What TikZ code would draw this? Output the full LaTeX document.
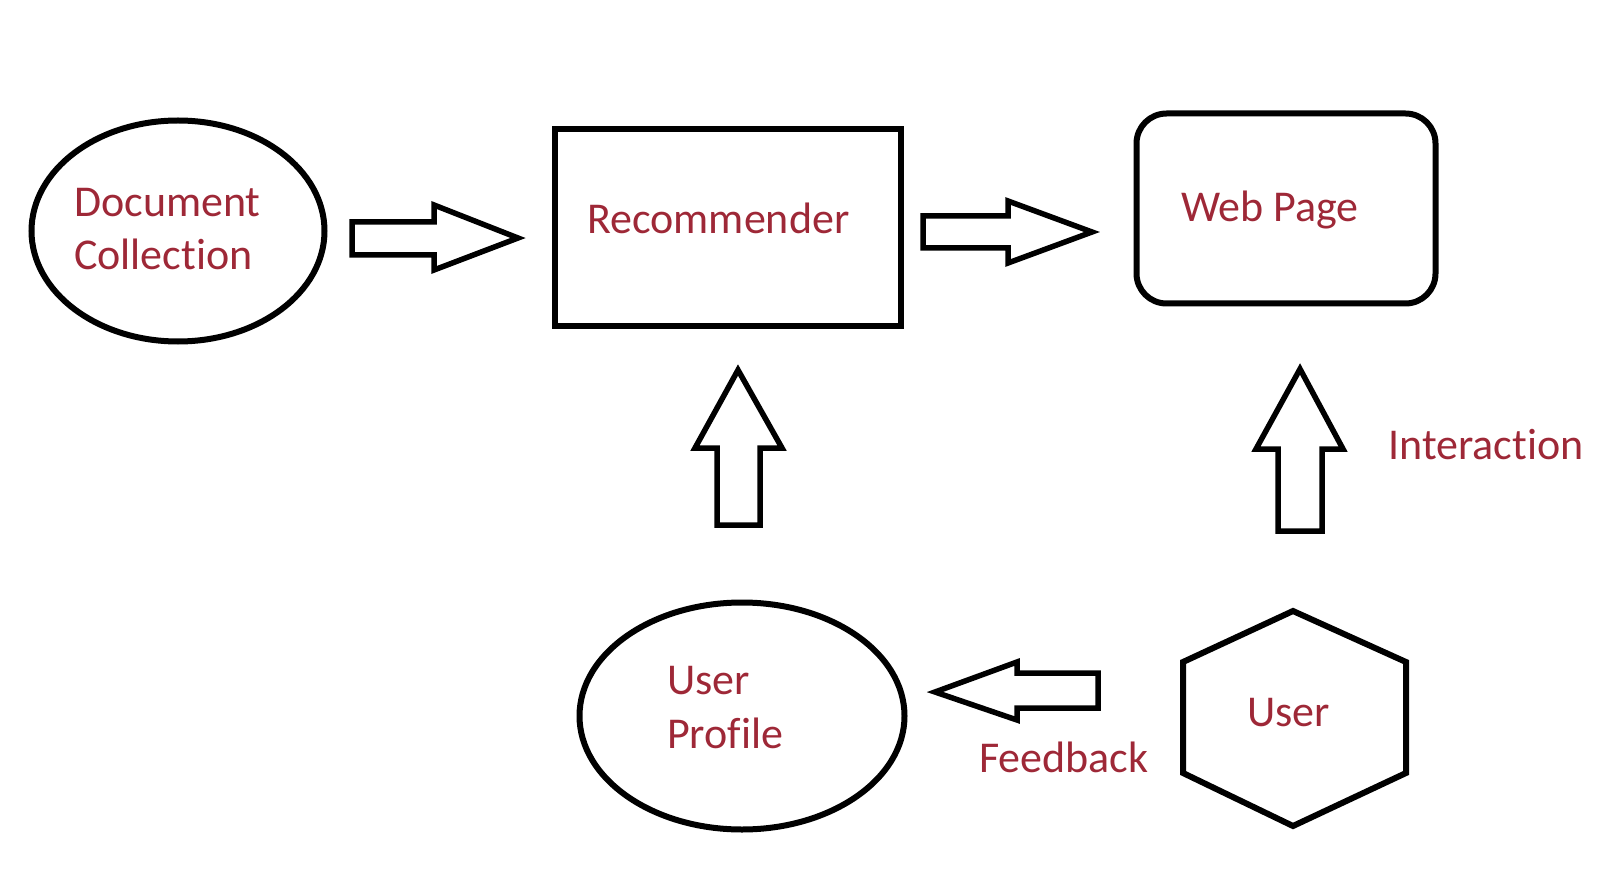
\documentclass[tikz,border=0pt]{standalone}
\usepackage{fontspec}
\setmainfont[Ligatures={NoCommon,NoContextual,NoRequired}]{Carlito}
\usetikzlibrary{shapes.geometric}
\definecolor{lbl}{RGB}{158,40,55}
\newcommand{\nolig}{\kern0pt }
\begin{document}
\begin{tikzpicture}[x=1pt,y=-1pt,
  outline/.style={draw=black,line width=6pt,line join=miter},
  blockarrow/.style={draw=black,line width=5.5pt,line join=miter,fill=white},
  lab/.style={text=lbl,font=\fontsize{44}{53}\selectfont,anchor=base west,inner sep=0pt}]
\useasboundingbox (0,0) rectangle (1608,890);
% shapes
\node[outline,ellipse,minimum width=293pt,minimum height=221pt,inner sep=0pt] (doc) at (178,231) {};
\node[outline,rectangle,minimum width=346pt,minimum height=197pt,inner sep=0pt] (rec) at (727.5,228) {};
\node[outline,rectangle,rounded corners=30pt,minimum width=299pt,minimum height=190pt,inner sep=0pt] (web) at (1286,208.5) {};
\node[outline,ellipse,minimum width=325pt,minimum height=227pt,inner sep=0pt] (prof) at (742,716) {};
\coordinate (hex) at (1294.5,718);
\draw[outline] (1293,611) coordinate (h1) -- (1406,662) -- (1406,773) -- (1293,826) -- (1183,773) -- (1183,662) -- cycle;
% labels
\node[lab] (tdoc1) at (74,217) {Document};
\node[lab] (tdoc2) at (74,270) {Collec\nolig tion};
\node[lab] (trec) at (587,234) {Recommender};
\node[lab] (tweb) at (1181,222) {Web Page};
\node[lab] (tint) at (1388,459) {Interac\nolig tion};
\node[lab] (tprof1) at (667,694) {User};
\node[lab] (tprof2) at (667,748) {Prof\nolig ile};
\node[lab] (tfb) at (979,772) {Feedback};
\node[lab] (tuser) at (1247,726) {User};
% block arrows
\draw[blockarrow] (352,222) -- (434,222) -- (434,205) -- (518,238) -- (434,270) -- (434,255) -- (352,255) -- cycle;
\draw[blockarrow] (923,216) -- (1008,216) -- (1008,201) -- (1092,232) -- (1008,263) -- (1008,248) -- (923,248) -- cycle;
\draw[blockarrow] (717,525) -- (717,448) -- (695,448) -- (738,370) -- (782,448) -- (760,448) -- (760,525) -- cycle;
\draw[blockarrow] (1278,531) -- (1278,449) -- (1256,449) -- (1300,369) -- (1343,449) -- (1322,449) -- (1322,531) -- cycle;
\draw[blockarrow] (1098,673) -- (1017,673) -- (1017,662) -- (935,692) -- (1017,720) -- (1017,708) -- (1098,708) -- cycle;
\end{tikzpicture}
\end{document}
